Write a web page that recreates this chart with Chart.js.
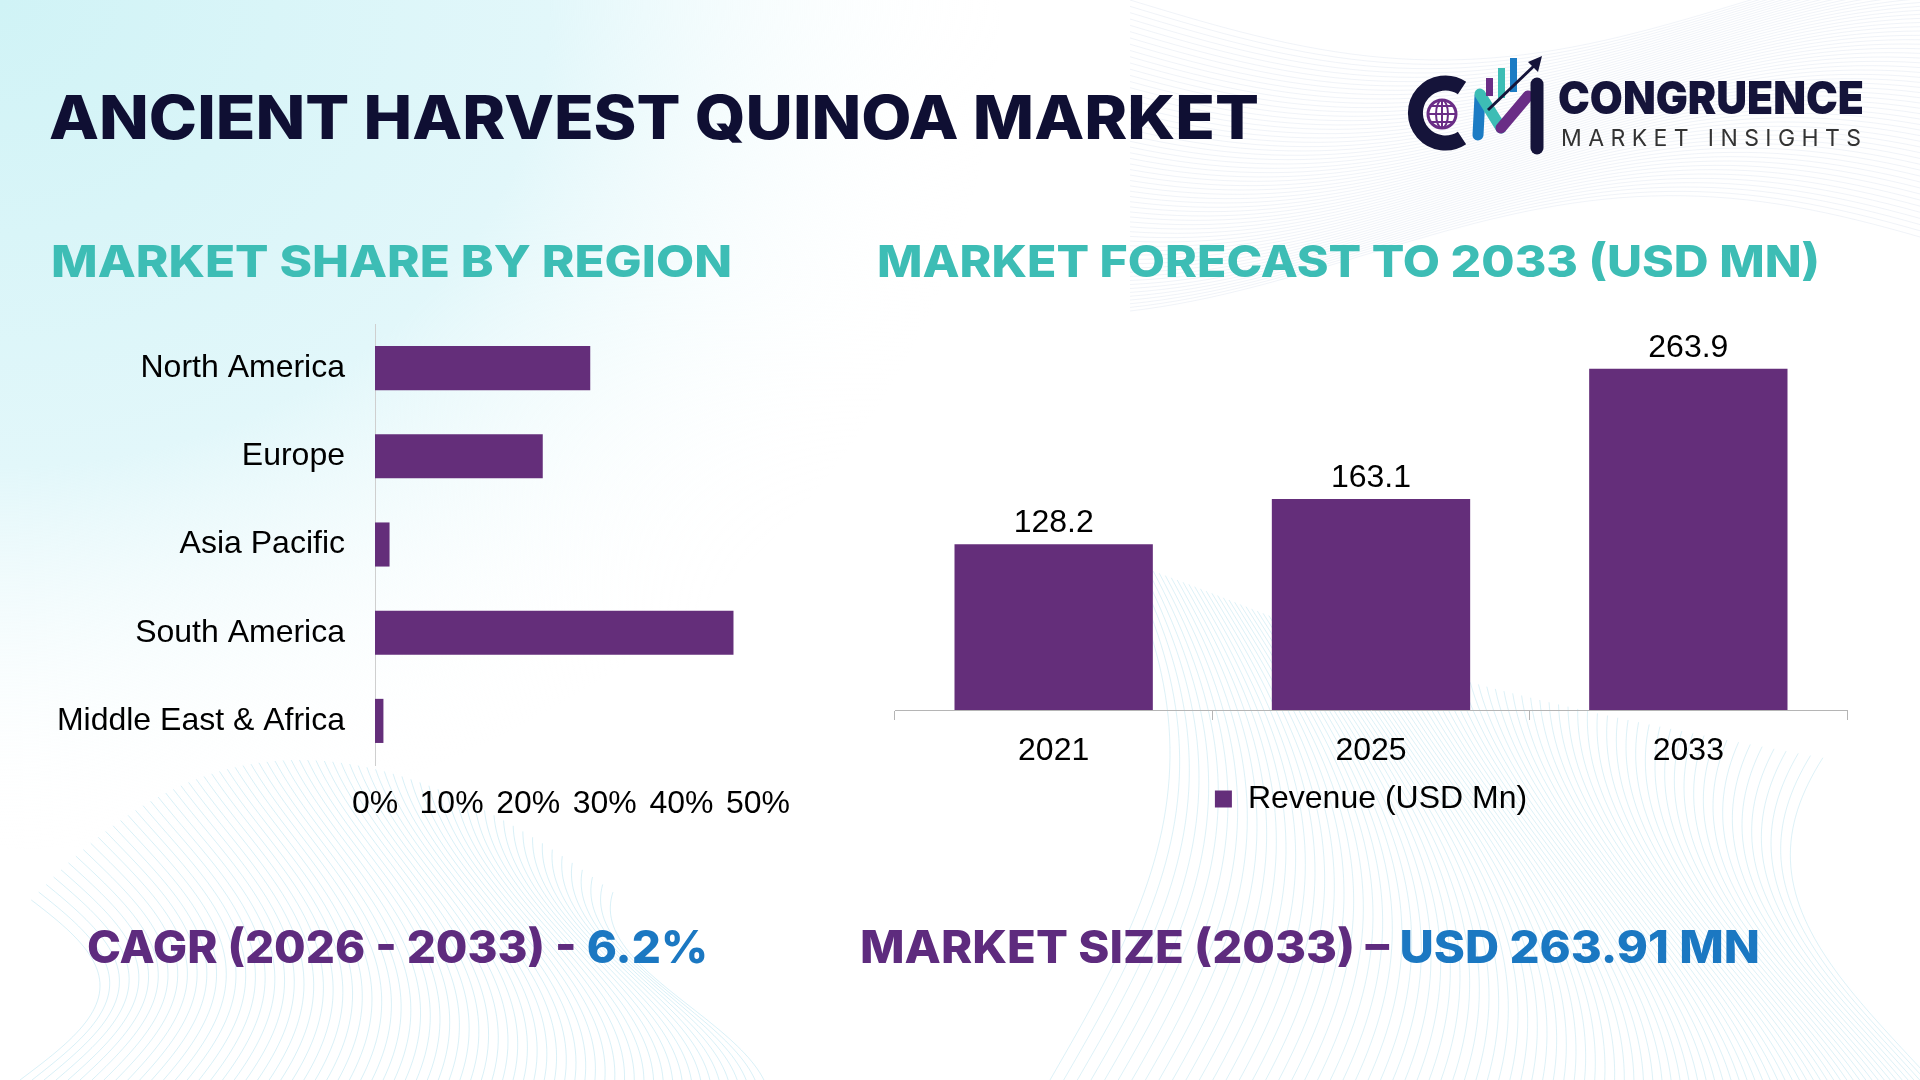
<!DOCTYPE html>
<html>
<head>
<meta charset="utf-8">
<script src="https://cdn.jsdelivr.net/npm/chart.js@4.4.1/dist/chart.umd.min.js"></script>
<style>
  html, body { margin: 0; padding: 0; }
  body { width: 1920px; height: 1080px; position: relative; overflow: hidden; background: #fff; font-family: Inter, sans-serif; }
  #bg { position: absolute; left: 0; top: 0; }
  .txt { position: absolute; white-space: nowrap; line-height: 1; transform-origin: left top; font-weight: 800; }
  .purple { color: #5e2b7e; }
  .blue { color: #1b78c2; }
  #leftWrap { position: absolute; left: 0; top: 300px; width: 820px; height: 540px; }
  #rightWrap { position: absolute; left: 860px; top: 280px; width: 1020px; height: 560px; }
  #logo { position: absolute; left: 1395px; top: 50px; }
</style>
</head>
<body>
<canvas id="bg" width="1920" height="1080"></canvas>

<div class="txt" id="title" style="left:49px; top:87px; font-size:60px; color:#0f0f33;" data-w="1210">ANCIENT HARVEST QUINOA MARKET</div>
<div class="txt" id="sub1" style="left:51px; top:239px; font-size:44px; color:#3dbdb5;" data-w="681">MARKET SHARE BY REGION</div>
<div class="txt" id="sub2" style="left:877px; top:239px; font-size:44px; color:#3dbdb5;" data-w="943">MARKET FORECAST TO 2033 (USD MN)</div>
<div class="txt" id="cagr" style="left:87px; top:924px; font-size:45px;" data-w="621"><span class="purple">CAGR (2026 - 2033) - </span><span class="blue">6.2%</span></div>
<div class="txt" id="msize" style="left:860px; top:924px; font-size:45px;" data-w="900"><span class="purple">MARKET SIZE (2033) – </span><span class="blue">USD 263.91 MN</span></div>

<svg id="logo" width="160" height="110" viewBox="1395 50 160 110">
  <path d="M1462 88 A30 30 0 1 0 1462 138" fill="none" stroke="#15143a" stroke-width="15"/>
  <circle cx="1442" cy="114" r="14" fill="#fff" stroke="#6a2d86" stroke-width="3"/>
  <ellipse cx="1442" cy="114" rx="6" ry="14" fill="none" stroke="#6a2d86" stroke-width="2"/>
  <line x1="1428" y1="114" x2="1456" y2="114" stroke="#6a2d86" stroke-width="2"/>
  <line x1="1430" y1="106" x2="1454" y2="106" stroke="#6a2d86" stroke-width="2"/>
  <line x1="1430" y1="122" x2="1454" y2="122" stroke="#6a2d86" stroke-width="2"/>
  <line x1="1442" y1="100" x2="1442" y2="128" stroke="#6a2d86" stroke-width="2"/>
  <line x1="1478" y1="135" x2="1480" y2="96" stroke="#1c7cc4" stroke-width="11" stroke-linecap="round"/>
  <line x1="1480" y1="94" x2="1501" y2="128" stroke="#3dbdb5" stroke-width="11" stroke-linecap="round"/>
  <line x1="1501" y1="128" x2="1528" y2="96" stroke="#6a2d86" stroke-width="11" stroke-linecap="round"/>
  <line x1="1537" y1="84" x2="1537" y2="148" stroke="#15143a" stroke-width="13" stroke-linecap="round"/>
  <rect x="1486" y="78" width="7" height="18" fill="#6a2d86"/>
  <rect x="1498" y="68" width="7" height="30" fill="#3dbdb5"/>
  <rect x="1510" y="58" width="7" height="34" fill="#1c7cc4"/>
  <line x1="1488" y1="110" x2="1536" y2="64" stroke="#15143a" stroke-width="3"/>
  <path d="M1542 56 L1528 62 L1538 72 Z" fill="#15143a"/>
</svg>
<div class="txt" id="logo1" style="left:1558px; top:75px; font-size:45px; font-weight:900; color:#15143a;" data-w="306">CONGRUENCE</div>
<div class="txt" id="logo2" style="left:1561px; top:127px; font-size:23px; font-weight:400; color:#333;" data-ls="300">MARKET INSIGHTS</div>

<div id="leftWrap"><canvas id="shareChart"></canvas></div>
<div id="rightWrap"><canvas id="forecastChart"></canvas></div>

<script>
// Data
const regions = ['North America', 'Europe', 'Asia Pacific', 'South America', 'Middle East & Africa'];
const regionShare = [28.1, 21.9, 1.9, 46.8, 1.1];
const shareTicks = [0, 10, 20, 30, 40, 50];

const years = ['2021', '2025', '2033'];
const revenue = [128.2, 163.1, 263.9];
const revenueLabel = 'Revenue (USD Mn)';

const barColor = '#642e7a';
const labelFont = { family: 'Liberation Sans', size: 32 };

// fit headline texts to the widths in the picture
document.querySelectorAll('.txt[data-w]').forEach(el => {
  const w = el.getBoundingClientRect().width;
  el.style.transform = 'scaleX(' + (parseFloat(el.dataset.w) / w) + ')';
});
document.querySelectorAll('.txt[data-ls]').forEach(el => {
  const n = el.textContent.length;
  const w = el.getBoundingClientRect().width;
  el.style.letterSpacing = ((parseFloat(el.dataset.ls) - w) / (n - 1)) + 'px';
});

// Background
const bg = document.getElementById('bg').getContext('2d');
let g = bg.createRadialGradient(0, 0, 0, 0, 0, 1000);
g.addColorStop(0, '#d0f3f6');
g.addColorStop(0.55, '#e2f7fa');
g.addColorStop(1, 'rgba(255,255,255,0)');
bg.save();
bg.scale(1, 0.85);
bg.fillStyle = g;
bg.fillRect(0, 0, 1920, 1300);
bg.restore();

function waves(n, fn, color) {
  bg.strokeStyle = color;
  bg.lineWidth = 1;
  for (let i = 0; i < n; i++) {
    bg.beginPath();
    for (let t = 0; t <= 1.0001; t += 0.02) {
      const p = fn(i / n, t);
      if (t === 0) bg.moveTo(p[0], p[1]); else bg.lineTo(p[0], p[1]);
    }
    bg.stroke();
  }
}
// bottom-left mound
waves(70, (k, t) => [20 + k * 680 + 80 * Math.sin(t * 3 + k * 2), 1080 - t * (320 - 140 * Math.pow(2 * k - 1, 2))], 'rgba(120,200,225,0.28)');
// right rising wave
waves(90, (k, t) => [1050 + k * 870 + 120 * Math.sin(t * 2.5 + k * 3), 1080 - t * (520 - 200 * k)], 'rgba(120,200,225,0.25)');
// top-right
waves(60, (k, t) => [1130 + t * 790, k * 260 + 60 * Math.sin(t * 4 + k * 2)], 'rgba(170,190,215,0.18)');

// Value labels above bars
const valueLabels = {
  id: 'valueLabels',
  afterDatasetsDraw(chart) {
    const ctx = chart.ctx;
    const meta = chart.getDatasetMeta(0);
    ctx.save();
    ctx.font = '32px "Liberation Sans"';
    ctx.fillStyle = '#000';
    ctx.textAlign = 'center';
    ctx.textBaseline = 'middle';
    meta.data.forEach((bar, i) => {
      ctx.fillText(chart.data.datasets[0].data[i].toFixed(1), bar.x, bar.y - 21);
    });
    ctx.restore();
  }
};

// Horizontal bar: market share by region
new Chart(document.getElementById('shareChart'), {
  type: 'bar',
  data: {
    labels: regions,
    datasets: [{ data: regionShare, backgroundColor: barColor, categoryPercentage: 1, barPercentage: 0.5 }]
  },
  options: {
    indexAxis: 'y',
    responsive: true,
    maintainAspectRatio: false,
    animation: false,
    layout: { padding: { top: 24, right: 62, left: 0, bottom: 0 } },
    plugins: { legend: { display: false }, tooltip: { enabled: false } },
    scales: {
      x: {
        min: shareTicks[0], max: shareTicks[shareTicks.length - 1],
        afterBuildTicks: s => { s.ticks = shareTicks.map(v => ({ value: v })); },
        afterFit: s => { s.height = 75; },
        grid: { display: false },
        border: { display: false },
        ticks: { color: '#000', font: labelFont, padding: 12, callback: v => v + '%' }
      },
      y: {
        afterFit: s => { s.width = 375; s.paddingTop = 0; s.paddingBottom = 0; },
        grid: { display: true, drawOnChartArea: false, drawTicks: false },
        border: { display: true, color: '#cfcfcf', width: 1 },
        ticks: { color: '#000', font: labelFont, padding: 30 }
      }
    }
  }
});

// Vertical bar: forecast
new Chart(document.getElementById('forecastChart'), {
  type: 'bar',
  data: {
    labels: years,
    datasets: [{ label: revenueLabel, data: revenue, backgroundColor: barColor, categoryPercentage: 1, barPercentage: 0.625 }]
  },
  options: {
    responsive: true,
    maintainAspectRatio: false,
    animation: false,
    layout: { padding: { top: 42, right: 33, left: 35, bottom: 15 } },
    plugins: {
      tooltip: { enabled: false },
      legend: {
        position: 'bottom',
        labels: { color: '#000', font: labelFont, boxWidth: 17, boxHeight: 17, padding: 13 }
      }
    },
    scales: {
      x: {
        afterFit: s => { s.height = 60; },
        grid: { display: true, offset: true, drawOnChartArea: false, drawTicks: true, tickLength: 10, color: '#b5b5b5' },
        border: { display: true, color: '#b5b5b5', width: 1 },
        ticks: { color: '#000', font: labelFont, padding: 12 }
      },
      y: { display: false, min: 0, max: 300 }
    }
  },
  plugins: [valueLabels]
});
</script>
</body>
</html>
